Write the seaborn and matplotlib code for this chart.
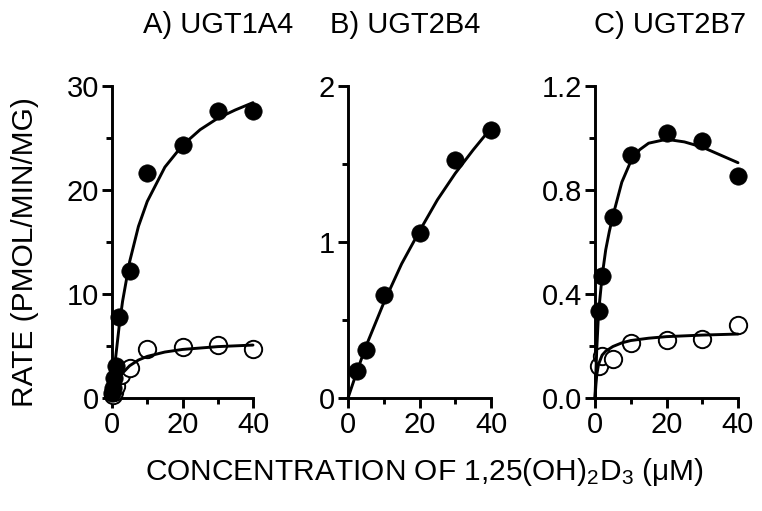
import matplotlib
matplotlib.use("Agg")
import matplotlib.pyplot as plt
from matplotlib.ticker import MultipleLocator
import pandas as pd
import seaborn as sns

# ==========================================
# data
# ==========================================
# A) UGT1A4
a_fill_x = [0.1, 0.25, 0.5, 1, 2, 5, 10, 20, 30, 40]
a_fill_y = [0.5, 1.0, 1.9, 3.1, 7.8, 12.2, 21.6, 24.3, 27.6, 27.6]
a_open_x = [0.25, 0.5, 1, 2.5, 5, 10, 20, 30, 40]
a_open_y = [0.3, 0.6, 1.2, 2.2, 2.9, 4.7, 4.9, 5.1, 4.7]
a_fit_fill_x = [0, 0.5, 1, 2, 3, 5, 7.5, 10, 15, 20, 25, 30, 35, 40]
a_fit_fill_y = [0, 2.0, 3.8, 6.8, 9.3, 13.1, 16.5, 18.9, 22.2, 24.3, 25.8, 26.9, 27.7, 28.4]
a_fit_open_x = [0, 0.5, 1, 2, 3, 5, 7.5, 10, 15, 20, 30, 40]
a_fit_open_y = [0, 0.62, 1.12, 1.87, 2.4, 3.1, 3.65, 4.0, 4.42, 4.67, 4.94, 5.09]

# B) UGT2B4
b_fill_x = [2.5, 5, 10, 20, 30, 40]
b_fill_y = [0.17, 0.305, 0.66, 1.06, 1.525, 1.72]
b_fit_x = [0, 2.5, 5, 10, 15, 20, 25, 30, 35, 40]
b_fit_y = [0, 0.17, 0.33, 0.61, 0.86, 1.07, 1.27, 1.44, 1.59, 1.73]

# C) UGT2B7
c_fill_x = [1, 2, 5, 10, 20, 30, 40]
c_fill_y = [0.335, 0.47, 0.695, 0.935, 1.02, 0.99, 0.855]
c_open_x = [1, 2, 5, 10, 20, 30, 40]
c_open_y = [0.125, 0.16, 0.15, 0.21, 0.225, 0.228, 0.282]
c_fit_fill_x = [0, 0.25, 0.5, 1, 2, 3, 4, 5, 7.5, 10, 12.5, 15, 20, 25, 30, 35, 40]
c_fit_fill_y = [0, 0.1, 0.19, 0.33, 0.47, 0.57, 0.64, 0.70, 0.83, 0.91, 0.955, 0.98, 0.995,
                0.985, 0.965, 0.935, 0.905]
c_fit_open_x = [0, 0.25, 0.5, 1, 2, 3, 5, 7.5, 10, 15, 20, 30, 40]
c_fit_open_y = [0, 0.05, 0.09, 0.13, 0.165, 0.18, 0.198, 0.212, 0.221, 0.23, 0.236, 0.242, 0.246]

titles = ["A) UGT1A4", "B) UGT2B4", "C) UGT2B7"]
x_label = "CONCENTRATION OF 1,25(OH)$_2$D$_3$ (\u03bcM)"
y_label = "RATE (PMOL/MIN/MG)"

# ==========================================
# style
# ==========================================
sns.set_style("ticks")
plt.rcParams['font.family'] = ['Liberation Sans', 'DejaVu Sans']
plt.rcParams['mathtext.default'] = 'regular'
plt.rcParams['text.color'] = 'black'
plt.rcParams['xtick.color'] = 'black'
plt.rcParams['ytick.color'] = 'black'
plt.rcParams['axes.edgecolor'] = 'black'

LW = 2.1
MS = 12.5

fig = plt.figure(figsize=(7.62, 5.11), dpi=100)
W, H = 762, 511


def make_ax(left_px, right_px):
    return fig.add_axes([left_px / W, (H - 398) / H, (right_px - left_px) / W, 312 / H])


def style_ax(ax, ymax, ymajor, yminor, yfmt):
    ax.set_xlim(0, 40)
    ax.set_ylim(0, ymax)
    for s in ["top", "right"]:
        ax.spines[s].set_visible(False)
    for s in ["left", "bottom"]:
        ax.spines[s].set_linewidth(LW)
    ax.xaxis.set_major_locator(MultipleLocator(20))
    ax.xaxis.set_minor_locator(MultipleLocator(10))
    ax.yaxis.set_major_locator(MultipleLocator(ymajor))
    ax.yaxis.set_minor_locator(MultipleLocator(yminor))
    ax.yaxis.set_major_formatter(yfmt)
    ax.tick_params(which="major", length=7.5, width=LW, labelsize=21, pad=2,
                   color="black", labelcolor="black")
    ax.tick_params(which="minor", length=4.5, width=LW, color="black")
    ax.set_xlabel("")
    ax.set_ylabel("")


def draw(ax, px, py, filled, fx, fy):
    df_pts = pd.DataFrame({"x": px, "y": py})
    df_fit = pd.DataFrame({"x": fx, "y": fy})
    if filled:
        sns.scatterplot(data=df_pts, x="x", y="y", ax=ax, s=MS ** 2, color="black",
                        edgecolor="black", linewidth=0.5, clip_on=False, zorder=3)
    else:
        sns.scatterplot(data=df_pts, x="x", y="y", ax=ax, s=MS ** 2, color="white",
                        edgecolor="black", linewidth=1.4, clip_on=False, zorder=3)
    sns.lineplot(data=df_fit, x="x", y="y", ax=ax, color="black", linewidth=LW,
                 estimator=None, sort=False, clip_on=False, zorder=4)


# ---- A ----
axA = make_ax(112, 253)
draw(axA, a_open_x, a_open_y, False, a_fit_open_x, a_fit_open_y)
draw(axA, a_fill_x, a_fill_y, True, a_fit_fill_x, a_fit_fill_y)
style_ax(axA, 30, 10, 5, "{x:.0f}")

# ---- B ----
axB = make_ax(348, 491)
draw(axB, b_fill_x, b_fill_y, True, b_fit_x, b_fit_y)
style_ax(axB, 2, 1, 0.5, "{x:.0f}")

# ---- C ----
axC = make_ax(595, 738)
draw(axC, c_open_x, c_open_y, False, c_fit_open_x, c_fit_open_y)
draw(axC, c_fill_x, c_fill_y, True, c_fit_fill_x, c_fit_fill_y)
style_ax(axC, 1.2, 0.4, 0.2, "{x:.1f}")

# titles and shared labels
for cx, t in zip([218, 405, 670], titles):
    fig.text(cx / W, 1 - 25 / H, t, ha="center", va="center", fontsize=21)
fig.text(424 / W, 1 - 472 / H, x_label, ha="center", va="center", fontsize=21.5)
fig.text(25 / W, 1 - 252 / H, y_label, ha="center", va="center", rotation=90, fontsize=21.5)

plt.savefig("out.png", dpi=100)
